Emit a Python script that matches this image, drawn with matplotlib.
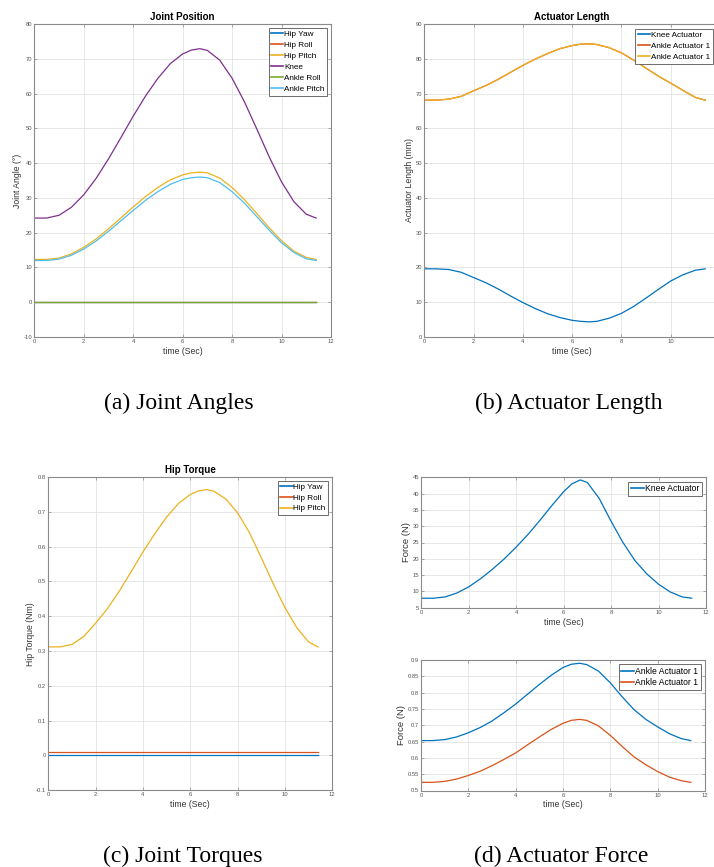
import matplotlib
matplotlib.use("Agg")
import matplotlib.pyplot as plt

# ---------------- data ----------------
t = [0, 0.5, 1.0, 1.5, 2.0, 2.5, 3.0, 3.5, 4.0, 4.5, 5.0, 5.5, 6.0, 6.35, 6.7,
     7.0, 7.5, 8.0, 8.5, 9.0, 9.5, 10.0, 10.5, 11.0, 11.4]

hip_yaw = [0.0] * len(t)
hip_roll = [0.0] * len(t)
hip_pitch = [12.3, 12.3, 12.7, 13.9, 15.8, 18.2, 21.1, 24.2, 27.4, 30.4, 33.0, 35.2, 36.6, 37.2, 37.4,
             37.2, 35.7, 33.0, 29.5, 25.5, 21.4, 17.7, 14.7, 12.9, 12.3]
knee = [24.2, 24.2, 25.0, 27.3, 30.9, 35.6, 41.2, 47.3, 53.5, 59.3, 64.4, 68.6, 71.4, 72.5, 72.9,
        72.4, 69.6, 64.4, 57.6, 49.8, 41.8, 34.6, 28.9, 25.3, 24.2]
ankle_roll = [0.0] * len(t)
ankle_pitch = [12.0, 12.0, 12.4, 13.5, 15.3, 17.6, 20.4, 23.4, 26.4, 29.3, 31.8, 33.9, 35.3, 35.8, 36.0,
               35.8, 34.4, 31.8, 28.5, 24.6, 20.7, 17.1, 14.3, 12.5, 12.0]

knee_act_len = [19.6, 19.6, 19.4, 18.6, 17.1, 15.6, 13.8, 11.8, 9.9, 8.2, 6.7, 5.6, 4.8, 4.5, 4.35,
                4.5, 5.4, 6.8, 8.8, 11.2, 13.7, 16.1, 17.9, 19.2, 19.6]
ankle_act1_len = [68.1, 68.1, 68.4, 69.2, 70.8, 72.3, 74.1, 76.1, 78.1, 79.9, 81.5, 82.9, 83.8, 84.2, 84.3,
                  84.1, 83.2, 81.7, 79.6, 77.3, 75.0, 73.0, 70.9, 68.9, 68.1]
ankle_act2_len = list(ankle_act1_len)

hip_yaw_tq = [0.0] * len(t)
hip_roll_tq = [0.01] * len(t)
hip_pitch_tq = [0.312, 0.312, 0.319, 0.342, 0.380, 0.422, 0.472, 0.528, 0.585, 0.637, 0.685, 0.724, 0.750, 0.760, 0.764,
                0.759, 0.737, 0.697, 0.640, 0.568, 0.494, 0.425, 0.367, 0.326, 0.312]

knee_force = [7.9, 7.9, 8.3, 9.5, 11.4, 13.9, 16.8, 20.0, 23.6, 27.5, 31.8, 36.3, 40.6, 43.0, 44.2,
              43.4, 38.5, 31.5, 25.0, 19.5, 15.4, 12.2, 9.8, 8.3, 7.9]
ankle_force1 = [0.653, 0.653, 0.656, 0.664, 0.677, 0.693, 0.713, 0.738, 0.765, 0.795, 0.825, 0.853, 0.877, 0.887, 0.890,
                0.886, 0.866, 0.830, 0.787, 0.748, 0.718, 0.695, 0.674, 0.659, 0.653]
ankle_force2 = [0.525, 0.525, 0.528, 0.535, 0.546, 0.559, 0.576, 0.595, 0.615, 0.640, 0.664, 0.687, 0.706, 0.715, 0.718,
                0.715, 0.698, 0.669, 0.635, 0.603, 0.579, 0.558, 0.541, 0.530, 0.525]

x_ticks = [0, 2, 4, 6, 8, 10, 12]
x_labels = ["0", "2", "4", "6", "8", "10", "12"]

C = ["#0072BD", "#D95319", "#EDB120", "#7E2F8E", "#77AC30", "#4DBEEE"]

# ---------------- figure ----------------
W, H = 714, 867
fig = plt.figure(figsize=(W / 100, H / 100), dpi=100)
SANS = ["Liberation Sans", "DejaVu Sans"]
SERIF = ["Liberation Serif", "DejaVu Serif"]


def make_axes(l, t_, r, b):
    return fig.add_axes([l / W, 1 - b / H, (r - l) / W, (b - t_) / H])


def style(ax, ylim, yticks, ylabels, ylabel, title=None, lab_size=6.2, xlabels=x_labels):
    ax.set_xlim(0, 12)
    ax.set_ylim(*ylim)
    ax.set_xticks(x_ticks)
    ax.set_xticklabels(xlabels)
    ax.set_yticks(yticks)
    ax.set_yticklabels(ylabels)
    ax.grid(True, color="#e3e3e3", lw=0.6)
    ax.set_axisbelow(True)
    for s in ax.spines.values():
        s.set_color("#8a8a8a")
        s.set_linewidth(0.8)
    ax.tick_params(direction="in", length=2.2, width=0.5, color="#8a8a8a",
                   labelsize=4.2, labelcolor="#555555", pad=1.5,
                   top=True, right=True)
    for lab in ax.get_xticklabels() + ax.get_yticklabels():
        lab.set_family(SANS)
    ax.set_xlabel("time (Sec)", fontsize=6.2, family=SANS, color="#333333", labelpad=2)
    ax.set_ylabel(ylabel, fontsize=lab_size, family=SANS, color="#333333", labelpad=1)
    if title:
        ax.set_title(title, fontsize=7, fontweight="bold", family=SANS, pad=3)


def legend(ax, size=5.9, spacing=0.4, anchor=None):
    kw = dict(loc="upper right", frameon=True, fancybox=False,
              framealpha=1, edgecolor="#555555", handlelength=1.5,
              handletextpad=0.1, borderpad=0.3, labelspacing=spacing,
              borderaxespad=0.5, prop={"family": SANS, "size": size})
    if anchor is not None:
        kw["bbox_to_anchor"] = anchor
        kw["borderaxespad"] = 0
    lg = ax.legend(**kw)
    lg.get_frame().set_linewidth(0.6)
    for ln in lg.get_lines():
        ln.set_linewidth(1.2)
    return lg


LW = 0.9

# (a) Joint Position
ax = make_axes(34.3, 24, 331, 337)
ax.plot(t, hip_yaw, color=C[0], lw=LW, label="Hip Yaw")
ax.plot(t, hip_roll, color=C[1], lw=LW, label="Hip Roll")
ax.plot(t, hip_pitch, color=C[2], lw=LW, label="Hip Pitch")
ax.plot(t, knee, color=C[3], lw=LW, label="Knee")
ax.plot(t, ankle_roll, color=C[4], lw=LW, label="Ankle Roll")
ax.plot(t, ankle_pitch, color=C[5], lw=LW, label="Ankle Pitch")
yt = list(range(-10, 81, 10))
style(ax, (-10, 80), yt, [str(v) for v in yt], "Joint Angle (°)", "Joint Position")
legend(ax)

# (b) Actuator Length (right edge runs past the picture, as in the reference)
ax = make_axes(424.3, 24, 720, 337)
ax.plot(t, knee_act_len, color=C[0], lw=LW, label="Knee Actuator")
ax.plot(t, ankle_act1_len, color=C[1], lw=LW, label="Ankle Actuator 1")
ax.plot(t, ankle_act2_len, color=C[2], lw=LW, label="Ankle Actuator 1")
yt = list(range(0, 91, 10))
style(ax, (0, 90), yt, [str(v) for v in yt], "Actuator Length (mm)", "Actuator Length",
      xlabels=x_labels[:-1] + [""])
legend(ax, anchor=((712.5 - 424.3) / (720 - 424.3), 1 - 5 / 313))

# (c) Hip Torque
ax = make_axes(48.3, 477, 332.3, 790.3)
ax.plot(t, hip_yaw_tq, color=C[0], lw=LW, label="Hip Yaw")
ax.plot(t, hip_roll_tq, color=C[1], lw=LW, label="Hip Roll")
ax.plot(t, hip_pitch_tq, color=C[2], lw=LW, label="Hip Pitch")
yt = [-0.1, 0, 0.1, 0.2, 0.3, 0.4, 0.5, 0.6, 0.7, 0.8]
style(ax, (-0.1, 0.8), yt, ["-0.1", "0", "0.1", "0.2", "0.3", "0.4", "0.5", "0.6", "0.7", "0.8"],
      "Hip Torque (Nm)", "Hip Torque")
legend(ax, spacing=0.35)

# (d) Actuator Force - knee
ax = make_axes(421.3, 477.3, 706, 607.7)
ax.plot(t, knee_force, color=C[0], lw=LW, label="Knee Actuator")
yt = list(range(5, 46, 5))
style(ax, (5, 45), yt, [str(v) for v in yt], "Force (N)", lab_size=6.8)
legend(ax, size=6.2)

# (d) Actuator Force - ankle
ax = make_axes(421, 660, 705, 790.5)
ax.plot(t, ankle_force1, color=C[0], lw=LW, label="Ankle Actuator 1")
ax.plot(t, ankle_force2, color=C[1], lw=LW, label="Ankle Actuator 1")
yt = [0.5, 0.55, 0.6, 0.65, 0.7, 0.75, 0.8, 0.85, 0.9]
style(ax, (0.5, 0.9), yt, ["0.5", "0.55", "0.6", "0.65", "0.7", "0.75", "0.8", "0.85", "0.9"],
      "Force (N)", lab_size=6.8)
legend(ax, size=6.2, spacing=0.3)

# captions
for txt, x, y in [("(a) Joint Angles", 179, 403), ("(b) Actuator Length", 569, 403),
                  ("(c) Joint Torques", 183, 856), ("(d) Actuator Force", 561, 856)]:
    fig.text(x / W, 1 - y / H, txt, ha="center", va="center", fontsize=17, family=SERIF)

fig.savefig("out.png", dpi=100)
